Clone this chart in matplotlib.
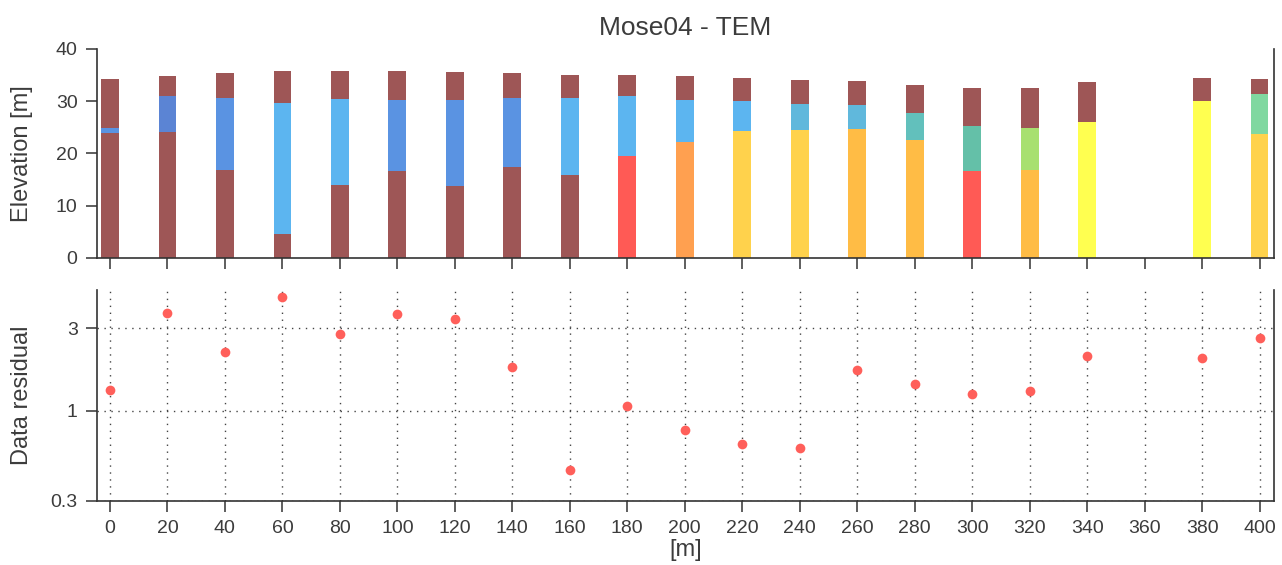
import matplotlib
matplotlib.use("Agg")
import matplotlib.pyplot as plt
from matplotlib.ticker import FixedLocator, FixedFormatter, NullLocator

plt.rcParams["font.family"] = ["Liberation Sans", "DejaVu Sans"]

# Sounding positions along the profile [m]
positions = [0, 20, 40, 60, 80, 100, 120, 140, 160, 180, 200,
             220, 240, 260, 280, 300, 320, 340, 380, 400]

# Layer interface elevations per sounding, bottom to top [m]
layer_tops = [
    [23.9, 24.9, 34.3],
    [24.1, 30.9, 34.75],
    [16.8, 30.6, 35.3],
    [4.65, 29.7, 35.7],
    [14.0, 30.4, 35.7],
    [16.6, 30.2, 35.7],
    [13.8, 30.2, 35.5],
    [17.5, 30.7, 35.3],
    [15.8, 30.7, 35.0],
    [19.6, 30.9, 35.0],
    [22.2, 30.3, 34.75],
    [24.3, 30.0, 34.5],
    [24.4, 29.5, 34.1],
    [24.7, 29.3, 33.8],
    [22.6, 27.8, 33.1],
    [16.6, 25.2, 32.6],
    [16.8, 24.9, 32.6],
    [26.1, 33.7],
    [30.0, 34.5],
    [23.7, 31.3, 34.3],
]

# Resistivity class of each layer, bottom to top
layer_classes = [
    ["low", "mid_blue", "low"],
    ["low", "dark_blue", "low"],
    ["low", "mid_blue", "low"],
    ["low", "light_blue", "low"],
    ["low", "light_blue", "low"],
    ["low", "mid_blue", "low"],
    ["low", "mid_blue", "low"],
    ["low", "mid_blue", "low"],
    ["low", "light_blue", "low"],
    ["red", "light_blue", "low"],
    ["orange", "light_blue", "low"],
    ["gold", "light_blue", "low"],
    ["gold", "teal_blue", "low"],
    ["amber", "teal_blue", "low"],
    ["amber", "teal", "low"],
    ["red", "teal_green", "low"],
    ["amber", "light_green", "low"],
    ["yellow", "low"],
    ["yellow", "low"],
    ["gold", "green", "low"],
]

class_colors = {
    "low": "#9e5656",
    "dark_blue": "#5b84d4",
    "mid_blue": "#5a93e2",
    "light_blue": "#5cb5f0",
    "teal_blue": "#60b8dc",
    "teal": "#62c0bc",
    "teal_green": "#64c0a8",
    "light_green": "#a8e070",
    "green": "#80d8a0",
    "red": "#ff5a55",
    "orange": "#ffa050",
    "amber": "#ffbc45",
    "gold": "#ffd24c",
    "yellow": "#ffff50",
}

# Data residual per sounding
residual_x = [0, 20, 40, 60, 80, 100, 120, 140, 160, 180, 200,
              220, 240, 260, 280, 300, 320, 340, 380, 400]
residual = [1.31, 3.70, 2.20, 4.58, 2.78, 3.65, 3.38, 1.79, 0.454, 1.06, 0.769,
            0.645, 0.612, 1.73, 1.42, 1.25, 1.30, 2.08, 2.01, 2.65]

x_ticks = list(range(0, 401, 20))
elev_ticks = [0, 10, 20, 30, 40]
res_ticks = [0.3, 1, 3]
res_tick_labels = ["0.3", "1", "3"]

text_color = "#3c3c3c"
spine_color = "#333333"

fig = plt.figure(figsize=(12.82, 5.65), dpi=100)
ax_top = fig.add_axes([0.0757, 0.5434, 0.918, 0.370])
ax_bot = fig.add_axes([0.0757, 0.1133, 0.918, 0.3735])

for ax in (ax_top, ax_bot):
    ax.set_xlim(-4.5, 405)
    ax.spines["top"].set_visible(False)
    for s in ("left", "right", "bottom"):
        ax.spines[s].set_color(spine_color)
        ax.spines[s].set_linewidth(1.2)
    ax.tick_params(direction="out", length=8, width=1.1, color=spine_color,
                   labelsize=14, labelcolor=text_color, pad=6)
    ax.tick_params(axis="y", right=False)
    ax.set_xticks(x_ticks)

# Layered resistivity columns
bar_width = 6.2
for x, tops, classes in zip(positions, layer_tops, layer_classes):
    bottom = 0.0
    for top, cls in zip(tops, classes):
        ax_top.bar(x, top - bottom, bottom=bottom, width=bar_width,
                   color=class_colors[cls], linewidth=0)
        bottom = top

ax_top.set_ylim(0, 40)
ax_top.set_yticks(elev_ticks)
ax_top.tick_params(axis="x", labelbottom=False)
ax_top.set_ylabel("Elevation [m]", fontsize=17, color=text_color)
ax_top.set_title("Mose04 - TEM", fontsize=19, color=text_color, pad=10)

# Data residuals
ax_bot.set_yscale("log")
ax_bot.set_ylim(0.3, 5)
ax_bot.yaxis.set_major_locator(FixedLocator(res_ticks))
ax_bot.yaxis.set_major_formatter(FixedFormatter(res_tick_labels))
ax_bot.yaxis.set_minor_locator(NullLocator())
ax_bot.grid(True, which="major", linestyle=(0, (1, 4)), color="#444444",
            linewidth=1.0)
ax_bot.plot(residual_x, residual, linestyle="none", marker="o",
            markersize=7, color="#ff5f5a", markeredgewidth=0, zorder=3)
ax_bot.set_ylabel("Data residual", fontsize=17, color=text_color)
ax_bot.set_xlabel("[m]", fontsize=17, color=text_color, labelpad=1)

for ax in (ax_top, ax_bot):
    ax.yaxis.set_label_coords(-0.054, 0.5)

fig.savefig("out.png", dpi=100, facecolor="white")
